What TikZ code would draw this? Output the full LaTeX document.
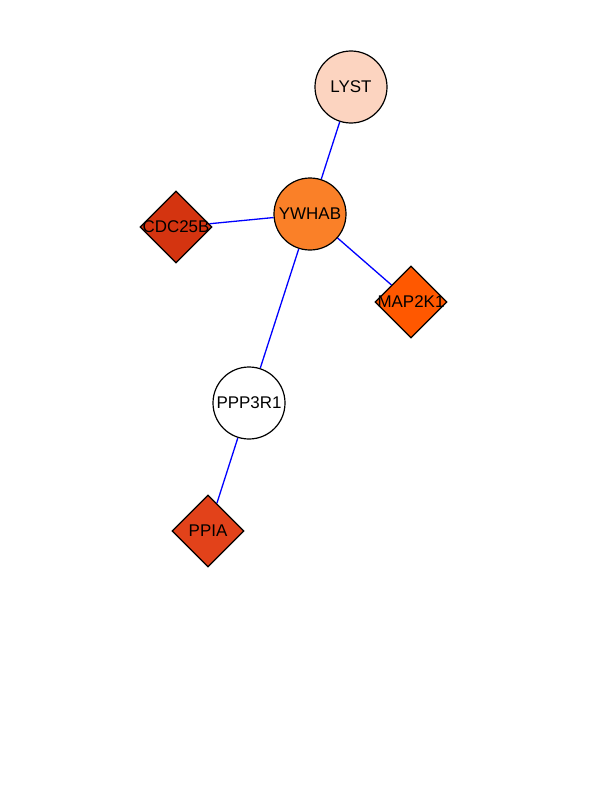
\documentclass[tikz,border=0pt]{standalone}
\usepackage{fontspec}
\setmainfont{Liberation Sans}
\usetikzlibrary{shapes.geometric,backgrounds}
\definecolor{lystcol}{RGB}{252,212,192}
\definecolor{ywhabcol}{RGB}{250,128,40}
\definecolor{cdccol}{RGB}{212,52,16}
\definecolor{mapcol}{RGB}{255,88,0}
\definecolor{ppiacol}{RGB}{226,66,26}
\begin{document}
\begin{tikzpicture}[x=1bp,y=-1bp]
% all positions in pixels of the 612x792 page, y downwards
\tikzset{gene/.style={draw, line width=1.2bp, inner sep=0pt}, every label/.style={font=\fontsize{17}{17}\selectfont, inner sep=0pt}}
\tikzset{prot/.style={gene, circle, minimum size=72bp}, kin/.style={gene, diamond, minimum size=72bp}} % circles and diamonds
\tikzset{link/.style={blue, line width=1.3bp}}
\useasboundingbox (0,0) rectangle (612,792);
\node[prot, fill=lystcol, label={center:LYST}] (lyst) at (351,87) {};
\node[prot, fill=ywhabcol, label={center:YWHAB}] (ywhab) at (310,214) {};
\node[kin, fill=cdccol, label={center:CDC25B}] (cdc25b) at (176,227) {};
\node[kin, fill=mapcol, label={center:MAP2K1}] (map2k1) at (411,302) {};
\node[prot, fill=white, label={center:PPP3R1}] (ppp3r1) at (249,403) {};
\node[kin, fill=ppiacol, label={center:PPIA}] (ppia) at (208,531) {};
\begin{scope}[on background layer]
\draw[link] (lyst) -- (ywhab);
\draw[link] (cdc25b) -- (ywhab);
\draw[link] (ywhab) -- (map2k1);
\draw[link] (ywhab) -- (ppp3r1);
\draw[link] (ppp3r1) -- (ppia);
\end{scope}
\end{tikzpicture}
\end{document}
